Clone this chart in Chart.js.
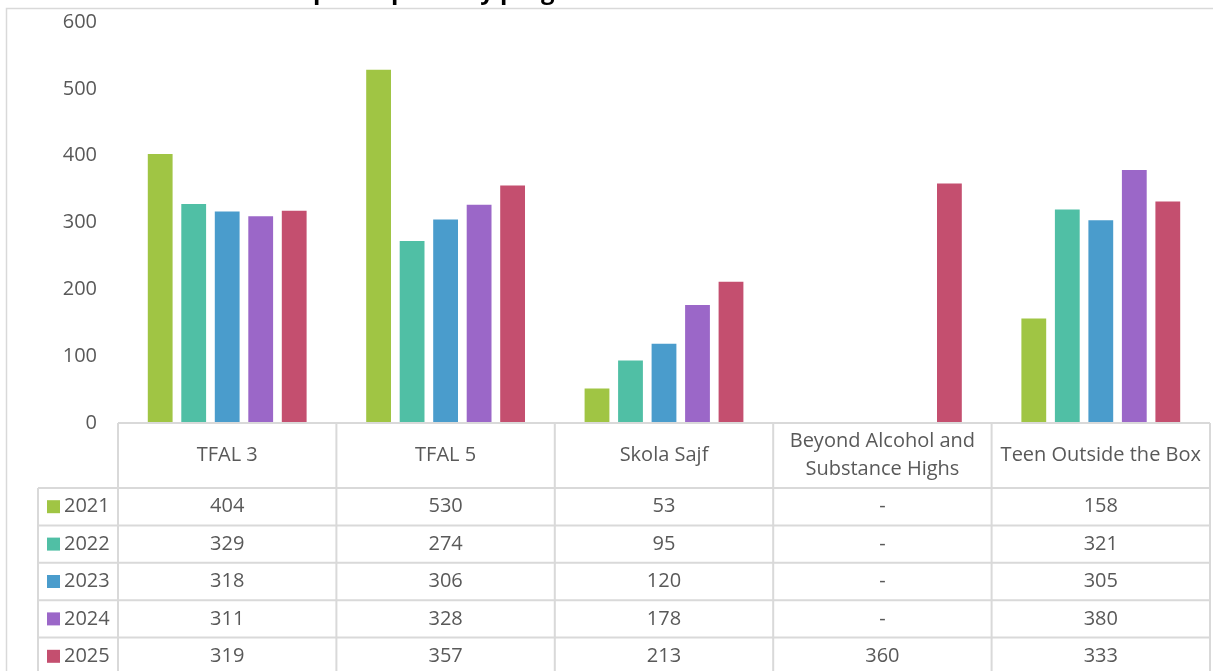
<!DOCTYPE html>
<html>
<head>
<meta charset="utf-8">
<script src="https://cdn.jsdelivr.net/npm/chart.js@4/dist/chart.umd.min.js"></script>
<style>
  html, body { margin: 0; padding: 0; background: #fff; }
  #wrap { position: relative; width: 1215px; height: 671px; overflow: hidden; }
</style>
</head>
<body>
<div id="wrap"><canvas id="canvas_plot1" width="1215" height="671"></canvas></div>
<script>
// data
var programs = ['TFAL 3', 'TFAL 5', 'Skola Sajf', ['Beyond Alcohol and', 'Substance Highs'], 'Teen Outside the Box']
var years = ['2021', '2022', '2023', '2024', '2025']
var v2021 = [404, 530, 53, null, 158]
var v2022 = [329, 274, 95, null, 321]
var v2023 = [318, 306, 120, null, 305]
var v2024 = [311, 328, 178, null, 380]
var v2025 = [319, 357, 213, 360, 333]
var yTicks = [0, 100, 200, 300, 400, 500, 600]
var titleText = 'Number of participants by program'

var yearColors = ['#a0c544', '#50bfa5', '#4a9ccc', '#9b67c8', '#c44f6f']
var allValues = [v2021, v2022, v2023, v2024, v2025]

var FONT = '"Open Sans", "Noto Sans", sans-serif'
var TEXT_GRAY = '#595959'
var LINE_GRAY = '#d9d9d9'

//draws the frame, the cut title and the data table under the bars
var tablePlugin = {
    id: 'dataTable',
    beforeDraw: function (chart) {
        var ctx = chart.ctx
        ctx.save()
        ctx.strokeStyle = LINE_GRAY
        ctx.lineWidth = 1.5
        ctx.beginPath()
        ctx.moveTo(6.5, 700)
        ctx.lineTo(6.5, 8.5)
        ctx.lineTo(1213, 8.5)
        ctx.stroke()

        // title sits mostly above the visible area, only descenders show
        ctx.fillStyle = '#000'
        ctx.font = 'bold 24px ' + FONT
        ctx.textBaseline = 'alphabetic'
        ctx.textAlign = 'left'
        var pre = ctx.measureText('Number of ').width
        ctx.fillText(titleText, 313 - pre, -1)
        ctx.restore()
    },
    afterDraw: function (chart) {
        var ctx = chart.ctx
        var x = chart.scales.x
        var area = chart.chartArea
        var colW = (area.right - area.left) / programs.length
        var top = area.bottom
        var headH = 65
        var rowH = 37.4
        var legLeft = 38
        var bottom = 700

        ctx.save()
        ctx.strokeStyle = LINE_GRAY
        ctx.lineWidth = 2
        ctx.beginPath()
        // header top line (also the axis line)
        ctx.moveTo(area.left, top)
        ctx.lineTo(area.right, top)
        for (var r = 0; r <= years.length; r++) {
            var ry = top + headH + r * rowH
            ctx.moveTo(legLeft, ry)
            ctx.lineTo(area.right, ry)
        }
        for (var c = 0; c <= programs.length; c++) {
            var cx = area.left + c * colW
            ctx.moveTo(cx, top)
            ctx.lineTo(cx, bottom)
        }
        ctx.moveTo(legLeft, top + headH)
        ctx.lineTo(legLeft, bottom)
        ctx.stroke()

        ctx.fillStyle = TEXT_GRAY
        ctx.font = '20px ' + FONT
        ctx.textAlign = 'center'
        ctx.textBaseline = 'middle'
        for (var i = 0; i < programs.length; i++) {
            var px = x.getPixelForValue(i)
            var lbl = programs[i]
            if (Array.isArray(lbl)) {
                ctx.fillText(lbl[0], px, top + headH / 2 - 14)
                ctx.fillText(lbl[1], px, top + headH / 2 + 14)
            } else {
                ctx.fillText(lbl, px, top + headH / 2)
            }
        }

        for (var k = 0; k < years.length; k++) {
            var cy = top + headH + k * rowH + rowH / 2
            ctx.fillStyle = yearColors[k]
            ctx.fillRect(47, cy - 6.5, 13, 13)
            ctx.fillStyle = TEXT_GRAY
            ctx.textAlign = 'left'
            ctx.fillText(years[k], 64, cy)
            ctx.textAlign = 'center'
            for (var j = 0; j < programs.length; j++) {
                var val = allValues[k][j]
                ctx.fillText(val === null ? '-' : String(val), x.getPixelForValue(j), cy)
            }
        }
        ctx.restore()
    }
}

var datasets = years.map(function (yr, i) {
    return {
        label: yr,
        data: allValues[i],
        backgroundColor: yearColors[i],
        borderColor: 'rgba(255,255,255,0.35)',
        borderWidth: 1,
        categoryPercentage: 0.767,
        barPercentage: 0.8
    }
})

var barchar = new Chart(document.getElementById('canvas_plot1'), {
    type: 'bar',
    data: {
        labels: programs.map(function (p) { return Array.isArray(p) ? p.join(' ') : p }),
        datasets: datasets
    },
    options: {
        responsive: false,
        animation: false,
        layout: { padding: { left: 6, right: 5, top: 22, bottom: 248 } },
        plugins: {
            legend: { display: false },
            title: { display: false },
            tooltip: { enabled: false }
        },
        scales: {
            x: { display: false },
            y: {
                min: 0,
                max: 600,
                // fixed axis width, and no extra room above/below for the labels
                afterFit: function (s) {
                    s.width = 112
                    s.paddingTop = 0
                    s.paddingBottom = 0
                },
                afterBuildTicks: function (s) {
                    s.ticks = yTicks.map(function (v) { return { value: v } })
                },
                grid: { display: false, drawTicks: false },
                border: { display: false },
                ticks: {
                    color: TEXT_GRAY,
                    font: { family: FONT, size: 20 },
                    padding: 21
                }
            }
        }
    },
    plugins: [tablePlugin]
})
</script>
</body>
</html>
